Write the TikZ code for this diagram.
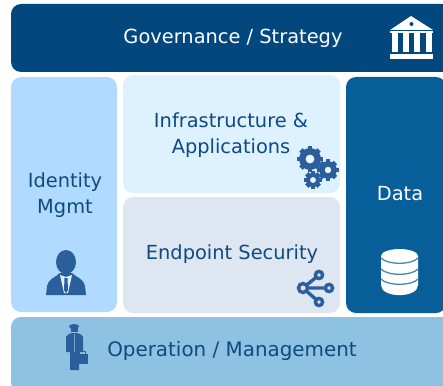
\documentclass[tikz,border=0pt]{standalone}
\usepackage{fontspec}
\setmainfont{DejaVu Sans}
\definecolor{navy}{HTML}{03477F}
\definecolor{datablue}{HTML}{085E98}
\definecolor{idblue}{HTML}{B0DAFF}
\definecolor{infra}{HTML}{DDF1FF}
\definecolor{endp}{HTML}{DDE6F1}
\definecolor{oper}{HTML}{8EC2E2}
\definecolor{ink}{HTML}{0F4A80}
\definecolor{icon}{HTML}{2A5F9C}
\tikzset{x=1pt,y=-1pt,
 panel/.style={rounded corners=10pt,draw=none},
 lab/.style={font=\fontsize{19.4}{26.5}\selectfont,align=center,text=ink,inner sep=0pt},
 wlab/.style={lab,text=white}}
\begin{document}
\begin{tikzpicture}
\useasboundingbox (0,0) rectangle (443,385);
\begin{scope}
\clip (0,0) rectangle (443,385);
\fill[panel,navy] (11,4) rectangle (452,72);
\fill[panel,idblue] (11,77) rectangle (117,312);
\fill[panel,infra] (123,75) rectangle (340,193);
\fill[panel,endp] (123,197) rectangle (340,313);
\fill[panel,datablue] (346,77) rectangle (446,313);
\fill[panel,oper] (11,317) rectangle (452,392);
\end{scope}
\node[wlab] (gov) at (233,38) {Governance / Strategy};
\node[lab] (inf) at (231,135) {Infrastructure \&\\Applications};
\node[lab] (idm) at (65,195) {Identity\\Mgmt};
\node[lab] (ep) at (232,254) {Endpoint Security};
\node[wlab] (dat) at (400,194) {Data};
\node[lab,font=\fontsize{19.9}{26}\selectfont] (op) at (232,351) {Operation / Management};
% bank icon
\fill[white] (411,16) -- (433,30) -- (390,30) -- cycle;
\fill[navy] (411.5,24) circle (2);
\fill[white] (390,31.5) rectangle (433,33.5);
\foreach \x in {392,402.5,414,425.5} \fill[white] (\x,33) rectangle +(6,19);
\fill[white] (390,54.5) rectangle (433,59);
% gears
\foreach \c/\r/\h in {{310,159}/11/4.4,{328,170}/8.8/3.2,{313,180}/7/2.9}{
 \foreach \a in {0,45,...,315}
  \fill[icon] (\c) ++(\a:\r-1) ++(\a+90:2.4) -- ++(\a:2.8) -- ++(\a-90:4.8) -- ++(\a+180:2.8) -- cycle;
 \fill[icon] (\c) circle (\r);
 \fill[infra!60!white] (\c) circle (\h);
}
% share icon
\draw[icon,line width=3.4pt] (303,288) -- (319,275) (303,288) -- (329,288) (303,288) -- (319,302);
\foreach \c/\r in {{303,288}/4.5,{319,275}/3.6,{329,288}/3.6,{319,302}/3.6}
 \draw[icon,line width=3.4pt,fill=endp] (\c) circle (\r);
% person icon
\fill[icon] (66,262) ellipse (10 and 12);
\fill[icon] (46,295) -- (47,286) .. controls (48,279) and (56,277) .. (60,273) -- (72,273) .. controls (76,277) and (84,279) .. (85,286) -- (86,295) -- cycle;
\fill[idblue!40!white] (60,275) -- (66,277) -- (72,275) -- (68,293) -- (64,293) -- cycle;
\fill[icon] (64.5,278) -- (67.5,278) -- (68,290) -- (66,293) -- (64,290) -- cycle;
% worker icon
\fill[icon] (74,326.5) ellipse (5 and 2.5);
\fill[icon] (70.5,327) rectangle (77.5,331.5);
\fill[icon] (66,337) .. controls (67,334) and (70,333) .. (74.5,333) .. controls (78,333) and (82,334) .. (83,337) -- (83,352) -- (79,352) -- (79,370) -- (70,370) -- (70,352) -- (66,352) -- cycle;
\fill[oper!70!icon] (73.5,334) rectangle (75,352);
\fill[icon] (77,354) rectangle (88,364);
\draw[icon,line width=1pt] (79.5,354) -- (79.5,351.5) -- (85.5,351.5) -- (85.5,354);
% database icon
\fill[white] (381,256) -- (381,285) .. controls (381,298.5) and (418,298.5) .. (418,285) -- (418,256) -- cycle;
\fill[white] (399.5,256) ellipse (18.5 and 7);
\foreach \y in {258,269,279}
 \draw[datablue!75!white,line width=1.3pt] (381,\y) .. controls (387,\y+7) and (412,\y+7) .. (418,\y);
\end{tikzpicture}
\end{document}
